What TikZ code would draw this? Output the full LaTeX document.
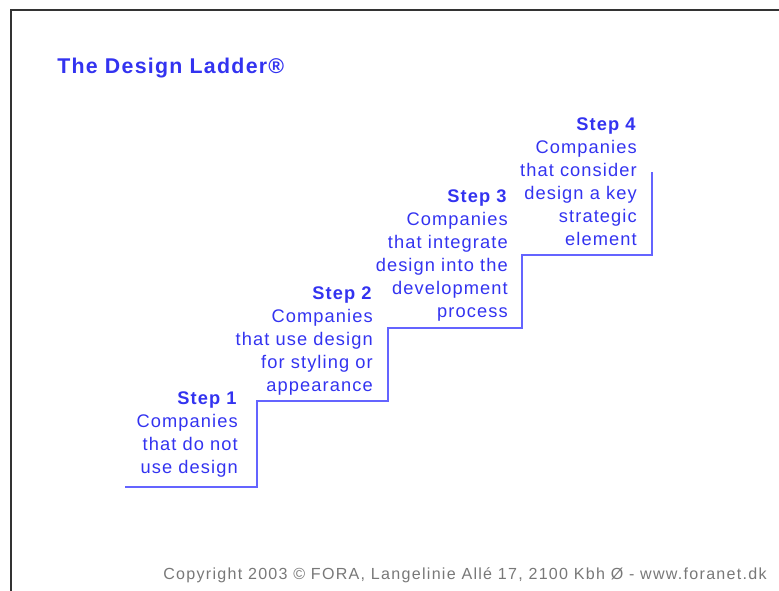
\documentclass[tikz,border=0pt]{standalone}
\usepackage{fontspec}
\setmainfont{Liberation Sans}
\newfontfamily\ladderfont[LetterSpace=6]{Liberation Sans}
\newfontfamily\footfont[LetterSpace=8]{Liberation Sans}
\definecolor{ladderblue}{RGB}{51,51,240}
\definecolor{stairblue}{RGB}{100,100,255}
\definecolor{footgray}{RGB}{120,120,120}
\begin{document}
\begin{tikzpicture}[x=0.75pt,y=-0.75pt,
  stepbox/.style={anchor=north east,inner sep=0pt,align=right,text=ladderblue,
    font=\ladderfont\fontsize{13.7}{17.25}\selectfont},
  stair/.style={draw=stairblue,line width=1.5pt}]
\useasboundingbox (0,0) rectangle (779,591);
\draw[black!80,line width=1.2pt] (11,591) -- (11,10) -- (779,10);
\node[anchor=west,inner sep=0pt,text=ladderblue,font=\ladderfont\fontsize{16}{19}\selectfont\bfseries] (title) at (57,68) {The Design Ladder®};
\draw[stair] (125,487) -- (257,487) -- (257,401) -- (388,401) -- (388,328)
  -- (522,328) -- (522,255) -- (652,255) -- (652,172);
\node[stepbox] (step1) at (238,391) {\textbf{Step 1}\\Companies\\that do not\\use design};
\node[stepbox] (step2) at (373,286) {\textbf{Step 2}\\Companies\\that use design\\for styling or\\appearance};
\node[stepbox] (step3) at (508,189) {\textbf{Step 3}\\Companies\\that integrate\\design into the\\development\\process};
\node[stepbox] (step4) at (637,117) {\textbf{Step 4}\\Companies\\that consider\\design a key\\strategic\\element};
\node[anchor=west,inner sep=0pt,text=footgray,font=\footfont\fontsize{12.05}{15}\selectfont] (copyright) at (163,575) {Copyright 2003 © FORA, Langelinie Allé 17, 2100 Kbh Ø - www.foranet.dk};
\end{tikzpicture}
\end{document}
